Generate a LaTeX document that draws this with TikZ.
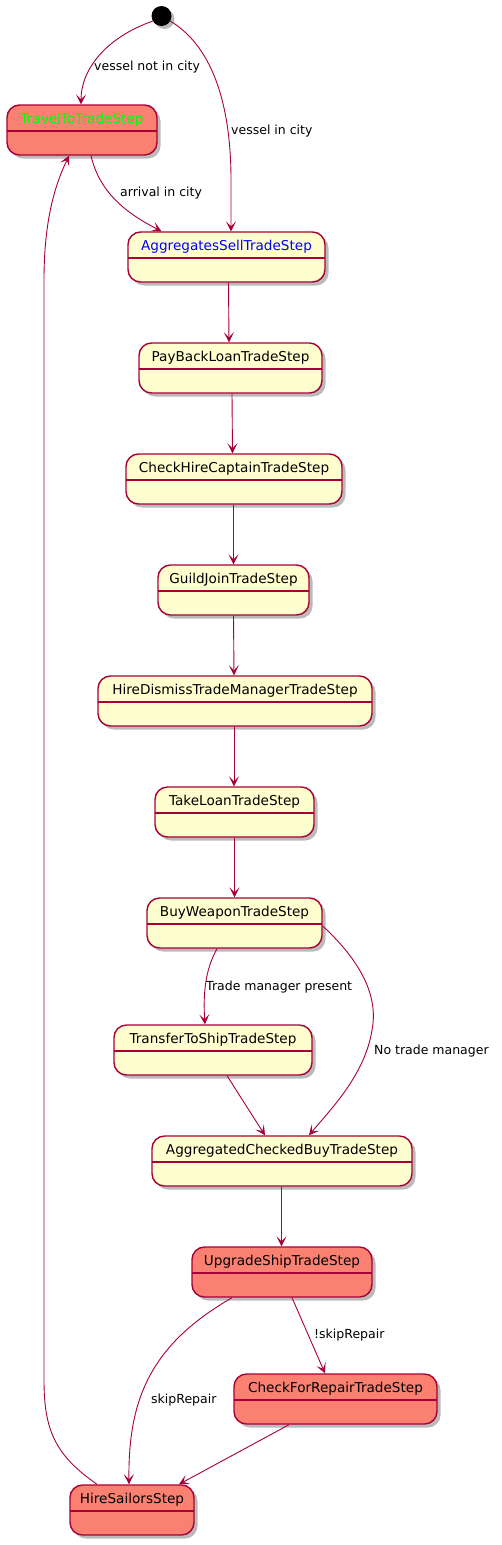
\documentclass[tikz,border=0pt]{standalone}
\usepackage{fontspec}
\setmainfont{DejaVu Sans}
\usetikzlibrary{arrows.meta,shadows}
\definecolor{bcol}{HTML}{A80036}
\definecolor{yel}{HTML}{FEFECE}
\definecolor{sal}{HTML}{FA8072}
\definecolor{lime}{HTML}{00FF00}
\definecolor{blu}{HTML}{0000FF}
\tikzset{
  stbox/.style={draw=bcol, line width=1.4pt, rounded corners=12.5pt, fill=yel,
    minimum height=50pt, inner xsep=0pt, inner ysep=0pt,
    text height=18.3pt, text depth=31.7pt, text=black,
    font=\fontsize{13.6}{16}\selectfont,
    drop shadow={shadow xshift=3.5pt, shadow yshift=-3.5pt, fill=black!45, opacity=0.6},
    path picture={\draw[bcol, line width=1.2pt] ([yshift=-26pt]path picture bounding box.north west) -- ([yshift=-26pt]path picture bounding box.north east);}},
  redbox/.style={stbox, fill=sal},
  conn/.style={draw=bcol, line width=0.9pt, -{Stealth[length=10pt,width=10pt,inset=5pt]}},
  lbl/.style={font=\fontsize{12.5}{15}\selectfont, text=black, inner sep=0pt, anchor=west}
}
\begin{document}
\begin{tikzpicture}[x=1pt,y=-1pt]
\useasboundingbox (0,0) rectangle (502,1545);
% initial
\node[circle, fill=black, minimum size=20pt, inner sep=0pt,
  drop shadow={shadow xshift=3pt, shadow yshift=-3pt, fill=black!45, opacity=0.6}] (init) at (161.5,16) {};
% states
\node[redbox, minimum width=150pt] (travel) at (82,130) {\textcolor{lime}{TravelToTradeStep}};
\node[stbox, minimum width=197pt] (sell) at (226.5,257) {\textcolor{blu}{AggregatesSellTradeStep}};
\node[stbox, minimum width=183pt] (payback) at (230.5,368) {PayBackLoanTradeStep};
\node[stbox, minimum width=216pt] (checkhire) at (234,479) {CheckHireCaptainTradeStep};
\node[stbox, minimum width=151pt] (guild) at (233.5,590) {GuildJoinTradeStep};
\node[stbox, minimum width=274pt] (hiredismiss) at (235,701) {HireDismissTradeManagerTradeStep};
\node[stbox, minimum width=159pt] (takeloan) at (234.5,812) {TakeLoanTradeStep};
\node[stbox, minimum width=175pt] (buyweapon) at (234.5,923) {BuyWeaponTradeStep};
\node[stbox, minimum width=198pt] (transfer) at (213,1050) {TransferToShipTradeStep};
\node[stbox, minimum width=260pt] (aggbuy) at (282,1161) {AggregatedCheckedBuyTradeStep};
\node[redbox, minimum width=180pt] (upgrade) at (282,1272) {UpgradeShipTradeStep};
\node[redbox, minimum width=203pt] (repair) at (335.5,1399) {CheckForRepairTradeStep};
\node[redbox, minimum width=124pt] (sailors) at (132,1510) {HireSailorsStep};
% edges
\draw[conn] (init.-150) .. controls (105,38) and (81,70) .. ([xshift=-1pt]travel.north);
\node[lbl] (l1) at (94,67) {vessel not in city};
\draw[conn] (init.-30) .. controls (215,48) and (231,110) .. (231,180) -- ([xshift=4.5pt]sell.north);
\node[lbl] (l2) at (231,131) {vessel in city};
\draw[conn] ([xshift=9pt]travel.south) .. controls (100,195) and (130,215) .. ([xshift=-65pt]sell.north);
\node[lbl] (l3) at (120,193) {arrival in city};
\draw[conn] ([xshift=2pt]sell.south) -- ([xshift=-1.5pt]payback.north);
\draw[conn] ([xshift=1.5pt]payback.south) -- ([xshift=-1.5pt]checkhire.north);
\draw[conn] ([xshift=-0.5pt]checkhire.south) -- (guild.north);
\draw[conn] (guild.south) -- ([xshift=-1pt]hiredismiss.north);
\draw[conn] ([xshift=-1pt]hiredismiss.south) -- ([xshift=-0.5pt]takeloan.north);
\draw[conn] (takeloan.south) -- (buyweapon.north);
\draw[conn] ([xshift=-17.5pt]buyweapon.south) .. controls (205,970) and (203,995) .. ([xshift=-8pt]transfer.north);
\node[lbl] (l4) at (206,987) {Trade manager present};
\draw[conn] ([yshift=-3pt]buyweapon.east) .. controls (365,965) and (378,1000) .. (372,1030) .. controls (365,1075) and (330,1110) .. ([xshift=27pt]aggbuy.north);
\node[lbl] (l5) at (374,1051) {No trade manager};
\draw[conn] ([xshift=14pt]transfer.south) -- ([xshift=-17pt]aggbuy.north);
\draw[conn] ([xshift=-0.5pt]aggbuy.south) -- ([xshift=-0.5pt]upgrade.north);
\draw[conn] ([xshift=10pt]upgrade.south) -- ([xshift=-10.5pt]repair.north);
\node[lbl] (l6) at (314,1335) {!skipRepair};
\draw[conn] ([xshift=-50pt]upgrade.south) .. controls (150,1345) and (128,1400) .. ([xshift=-3pt]sailors.north);
\node[lbl] (l7) at (151,1400) {skipRepair};
\draw[conn] ([xshift=-46.5pt]repair.south) -- ([xshift=47pt]sailors.north);
\draw[conn] ([xshift=-35pt]sailors.north) .. controls (55,1455) and (44,1430) .. (44,1380) -- (44,280) .. controls (44,220) and (55,185) .. ([xshift=-13pt]travel.south);
\end{tikzpicture}
\end{document}
